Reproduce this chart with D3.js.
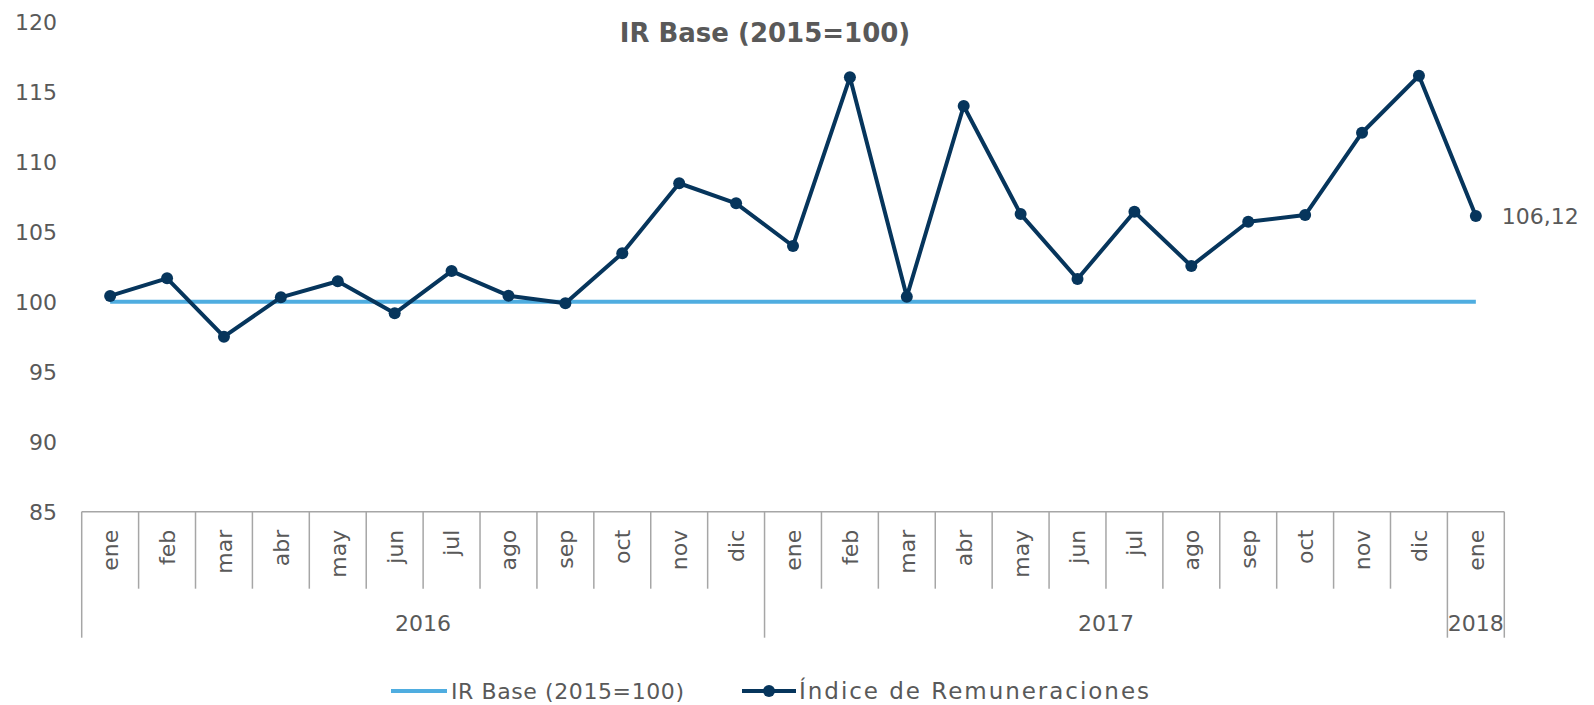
<!DOCTYPE html>
<html lang="es">
<head>
  <meta charset="UTF-8">
  <title>IR Base (2015=100)</title>
  <script src="https://d3js.org/d3.v7.min.js"></script>
  <style>
  body { margin: 0; background: #fff; }
  text { font-family: "DejaVu Sans", sans-serif; fill: #595959; }
  </style>
</head>
<body>
  <div class="chart"></div>
  <script>
const months = ["ene","feb","mar","abr","may","jun","jul","ago","sep","oct","nov","dic",
                "ene","feb","mar","abr","may","jun","jul","ago","sep","oct","nov","dic","ene"]
const years = [{label: "2016", from: 0, to: 12}, {label: "2017", from: 12, to: 24}, {label: "2018", from: 24, to: 25}]
const irBase = months.map(() => 100)
const indice = [100.41, 101.67, 97.5, 100.31, 101.46, 99.17, 102.19, 100.43, 99.89, 103.46, 108.46, 107.03,
                103.98, 116.03, 100.36, 113.98, 106.26, 101.62, 106.43, 102.55, 105.71, 106.19, 112.07, 116.14, 106.12]
const yTicks = [85, 90, 95, 100, 105, 110, 115, 120]

const width = 1594, height = 705
const margin = {top: 21.7, left: 81.7, right: 89.7, bottom: 193.3}
const baseColor = "#4FADE0", indColor = "#06355C", axisColor = "#A6A6A6"

const svg = d3.select(".chart").append("svg")
  .attr("width", width)
  .attr("height", height)

const x = d3.scaleBand()
  .domain(d3.range(months.length))
  .range([margin.left, width - margin.right])
const y = d3.scaleLinear()
  .domain([85, 120])
  .range([height - margin.bottom, margin.top])
const cx = i => x(i) + x.bandwidth() / 2
const y0 = y(85)

// title
svg.append("text")
  .attr("x", 765).attr("y", 42)
  .attr("text-anchor", "middle")
  .style("font-size", "26px").style("font-weight", "bold")
  .text("IR Base (2015=100)")

// y labels
svg.append("g")
  .selectAll("text")
  .data(yTicks)
  .join("text")
    .attr("x", 57)
    .attr("y", d => y(d))
    .attr("dy", "0.36em")
    .attr("text-anchor", "end")
    .style("font-size", "22px")
    .text(d => d)

// category axis: top line, month separators, year separators
const axis = svg.append("g").attr("stroke", axisColor).attr("stroke-width", 1.5)
axis.append("line")
  .attr("x1", x.range()[0]).attr("x2", x.range()[1])
  .attr("y1", y0).attr("y2", y0)
const yearEdges = new Set(years.flatMap(d => [d.from, d.to]))
axis.selectAll(".sep")
  .data(d3.range(months.length + 1))
  .join("line")
    .attr("x1", i => x.step() * i + x.range()[0])
    .attr("x2", i => x.step() * i + x.range()[0])
    .attr("y1", y0)
    .attr("y2", i => yearEdges.has(i) ? y0 + 126 : y0 + 77)

svg.append("g")
  .selectAll("text")
  .data(months)
  .join("text")
    .attr("transform", (d, i) => `translate(${cx(i)},${y0 + 18}) rotate(-90)`)
    .attr("dy", "0.36em")
    .attr("text-anchor", "end")
    .style("font-size", "22px")
    .text(d => d)

svg.append("g")
  .selectAll("text")
  .data(years)
  .join("text")
    .attr("x", d => (x.step() * (d.from + d.to)) / 2 + x.range()[0])
    .attr("y", y0 + 111)
    .attr("dy", "0.36em")
    .attr("text-anchor", "middle")
    .style("font-size", "22px")
    .text(d => d.label)

// series
const line = d3.line().x((d, i) => cx(i)).y(d => y(d))
svg.append("path")
  .attr("d", line(irBase))
  .attr("fill", "none")
  .attr("stroke", baseColor)
  .attr("stroke-width", 4)

svg.append("path")
  .attr("d", line(indice))
  .attr("fill", "none")
  .attr("stroke", indColor)
  .attr("stroke-width", 4)
  .attr("stroke-linejoin", "round")

svg.append("g")
  .selectAll("circle")
  .data(indice)
  .join("circle")
    .attr("cx", (d, i) => cx(i))
    .attr("cy", d => y(d))
    .attr("r", 6)
    .attr("fill", indColor)

const last = indice.length - 1
svg.append("text")
  .attr("x", cx(last) + 26)
  .attr("y", y(indice[last]))
  .attr("dy", "0.36em")
  .style("font-size", "22px")
  .text(d3.format(".2f")(indice[last]).replace(".", ","))

// legend
const legend = svg.append("g").attr("transform", "translate(0,691)")
legend.append("line")
  .attr("x1", 391).attr("x2", 447)
  .attr("stroke", baseColor).attr("stroke-width", 4)
legend.append("text")
  .attr("x", 451).attr("dy", "0.36em")
  .attr("textLength", 233).attr("lengthAdjust", "spacing")
  .style("font-size", "22px")
  .text("IR Base (2015=100)")
legend.append("line")
  .attr("x1", 742).attr("x2", 796)
  .attr("stroke", indColor).attr("stroke-width", 4)
legend.append("circle")
  .attr("cx", 769).attr("r", 6)
  .attr("fill", indColor)
legend.append("text")
  .attr("x", 799).attr("dy", "0.36em")
  .attr("textLength", 350).attr("lengthAdjust", "spacing")
  .style("font-size", "23px")
  .text("Índice de Remuneraciones")
  </script>
</body>
</html>
